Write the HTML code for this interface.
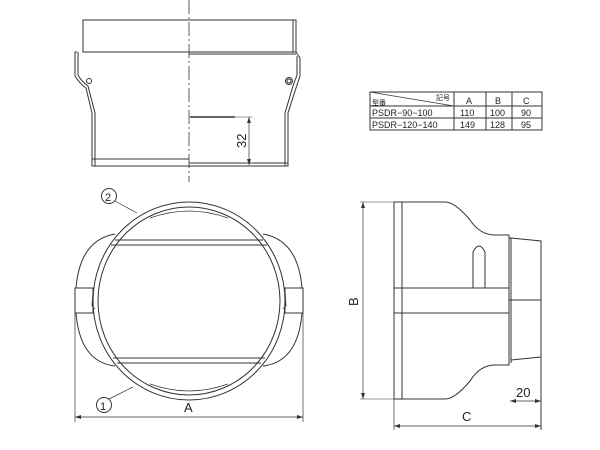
<!DOCTYPE html>
<html><head><style>body{margin:0;background:#fff}svg{display:block}</style></head><body>
<svg width="600" height="450" viewBox="0 0 600 450" xmlns="http://www.w3.org/2000/svg" font-family="Liberation Sans, Noto Sans CJK KR, sans-serif">
<g fill="none" stroke="#333" stroke-width="1">
<!-- top view -->
<line x1="189" y1="0" x2="189" y2="182" stroke-dasharray="14,3,2,3" stroke-width="0.8"/>
<rect x="83" y="20" width="213" height="32"/>
<line x1="293" y1="20" x2="293" y2="52"/>
<path d="M77 52 L75 52 L75 76 Q80 84 86 88 L92 113 L92 166 L288 166 L288 113 L296 88 L300 76 L300 58 L296 52"/>
<path d="M78 52 L78 75 Q82 82 88 86 L95 113 L95 166"/>
<path d="M285 166 L285 113 L293 86 L297 75 L297 56"/>
<line x1="83" y1="52" x2="189" y2="52"/>
<line x1="189" y1="54" x2="296" y2="54"/>
<line x1="92" y1="159" x2="189" y2="159"/>
<line x1="189" y1="163" x2="288" y2="163"/>
<circle cx="89" cy="81" r="2.5"/>
<circle cx="289" cy="81" r="3.5"/><circle cx="289" cy="81" r="2"/>
<line x1="190" y1="117" x2="235" y2="117" stroke-width="1.5"/>
<line x1="235" y1="117" x2="252" y2="117" stroke-width="0.6"/>
<line x1="249" y1="117" x2="249" y2="165" stroke-width="0.7"/>
<!-- front view -->
<ellipse cx="189" cy="301" rx="96" ry="99"/>
<ellipse cx="189" cy="301" rx="91" ry="94"/>
<path d="M150 218 Q170 211 189 211 Q208 211 228 218 M150 384 Q170 391 189 391 Q208 391 228 384" stroke-width="0.7"/>
<line x1="115" y1="240" x2="263" y2="240"/><line x1="111" y1="245" x2="267" y2="245"/>
<line x1="113" y1="358" x2="265" y2="358"/><line x1="117" y1="363" x2="261" y2="363"/>
<path d="M115 234 Q80 240 76 288 M76 313 Q80 362 115 366"/>
<path d="M263 234 Q298 240 302 288 M302 313 Q298 362 263 366"/>
<rect x="75" y="288" width="18" height="25"/><rect x="285" y="288" width="18" height="25"/>
<path d="M93 291 L92 306 L95 309 M285 291 L286 306 L283 309" stroke-width="0.8"/>
<line x1="75" y1="313" x2="75" y2="422" stroke-width="0.7"/>
<line x1="303" y1="313" x2="303" y2="422" stroke-width="0.7"/>
<line x1="75" y1="417" x2="303" y2="417" stroke-width="0.7"/>
<circle cx="109" cy="196" r="7.5"/><line x1="115" y1="201" x2="137" y2="213" stroke-width="0.7"/>
<circle cx="104" cy="405" r="7.5"/><line x1="109" y1="399" x2="133" y2="387" stroke-width="0.7"/>
<!-- side view -->
<rect x="394" y="202" width="8" height="197"/>
<path d="M402 202 L445 202 Q455 202 470 220 Q480 235 495 235 L509 235 L509 288"/>
<path d="M402 399 L445 399 Q455 399 470 381 Q480 365 495 365 L509 365 L509 313"/>
<rect x="394" y="288" width="115" height="25"/>
<path d="M509 238 L511 238 L541 241 L541 430 M511 238 L511 363 M509 300 L541 300 M511 360 L541 357"/>
<path d="M473 288 L473 252 Q479 240 485 252 L485 288"/>
<line x1="363" y1="202" x2="363" y2="399" stroke-width="0.7"/>
<line x1="360" y1="202" x2="394" y2="202" stroke-width="0.6"/>
<line x1="360" y1="399" x2="394" y2="399" stroke-width="0.6"/>
<line x1="394" y1="399" x2="394" y2="430" stroke-width="0.7"/>
<line x1="394" y1="426" x2="541" y2="426" stroke-width="0.7"/>
<line x1="510" y1="401" x2="541" y2="401" stroke-width="0.7"/>
<!-- table -->
<rect x="370" y="92" width="172" height="38"/>
<line x1="370" y1="106" x2="542" y2="106"/><line x1="370" y1="118" x2="542" y2="118"/>
<line x1="454" y1="92" x2="454" y2="130"/><line x1="486" y1="92" x2="486" y2="130"/><line x1="512" y1="92" x2="512" y2="130"/>
<line x1="370" y1="92" x2="454" y2="106" stroke-width="0.7"/>
</g>
<g fill="#333" stroke="none">
<path d="M249 117 l-2 6 h4z M249 165 l-2 -6 h4z"/>
<path d="M75 417 l6 -2 v4z M303 417 l-6 -2 v4z"/>
<path d="M363 202 l-2 6 h4z M363 399 l-2 -6 h4z"/>
<path d="M394 426 l6 -2 v4z M541 426 l-6 -2 v4z"/>
<path d="M510 401 l6 -2 v4z M541 401 l-6 -2 v4z"/>
</g>
<g fill="#222" font-size="13">
<text x="0" y="0" transform="translate(246,148) rotate(-90)">32</text>
<text x="184" y="412">A</text>
<text x="0" y="0" transform="translate(358,306) rotate(-90)">B</text>
<text x="462" y="421">C</text>
<text x="516" y="397">20</text>
<text x="105" y="201" font-size="11">2</text>
<text x="100" y="410" font-size="11">1</text>
</g>
<g fill="#222" font-size="9">
<text x="436" y="100" font-size="7">記号</text>
<text x="372" y="105" font-size="7">型番</text>
<text x="466" y="104">A</text><text x="495" y="104">B</text><text x="523" y="104">C</text>
<text x="372" y="116">PSDR−90−100</text>
<text x="460" y="116">110</text><text x="490" y="116">100</text><text x="521" y="116">90</text>
<text x="372" y="128">PSDR−120−140</text>
<text x="460" y="128">149</text><text x="490" y="128">128</text><text x="521" y="128">95</text>
</g>
</svg>
</body></html>
